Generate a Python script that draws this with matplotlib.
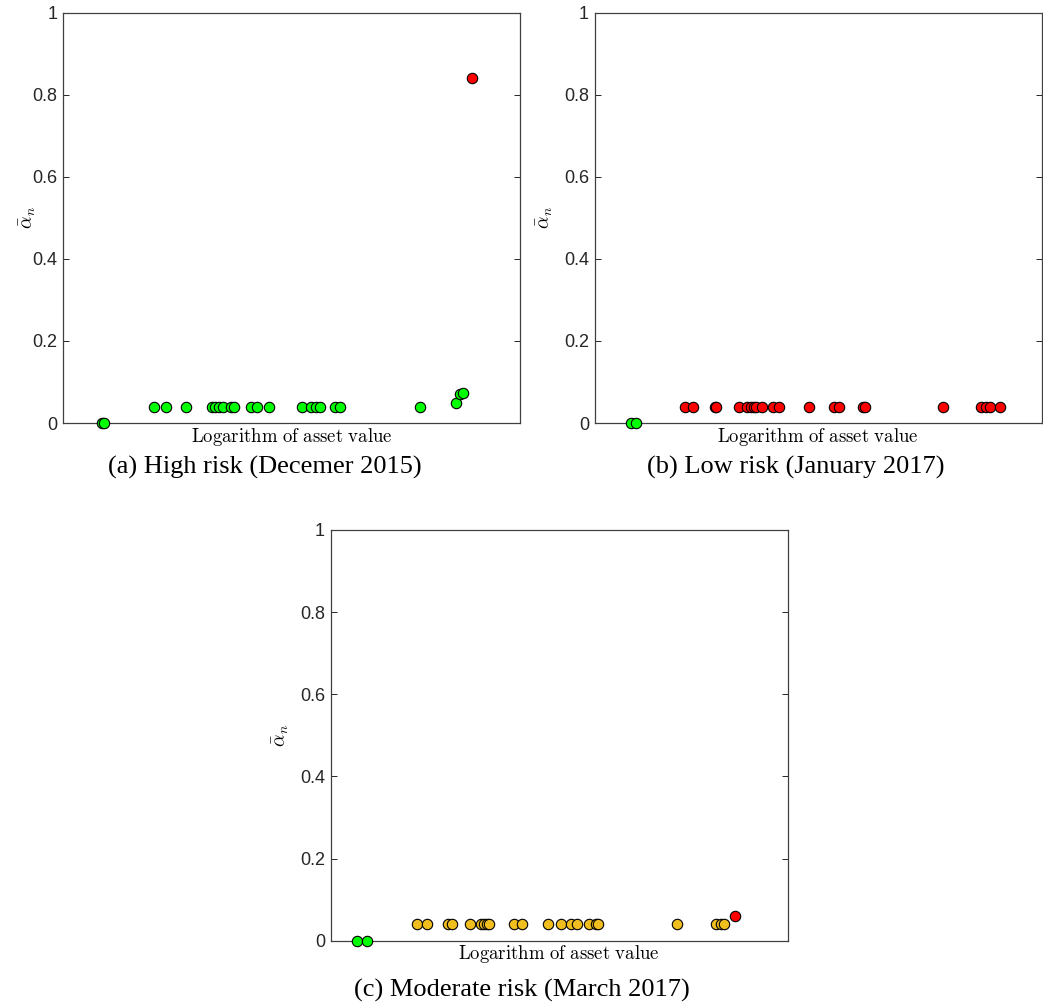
import matplotlib
matplotlib.use("Agg")
import matplotlib.pyplot as plt

plt.rcParams['mathtext.fontset'] = 'cm'
plt.rcParams['font.family'] = ['Liberation Sans', 'DejaVu Sans']

# ---------------- data ----------------
# (a) High risk (December 2015)
a_green_x = [20.85, 20.90, 21.99, 22.26, 22.69, 23.25, 23.33, 23.42, 23.51, 23.68, 23.74,
             24.12, 24.25, 24.51, 25.23, 25.42, 25.53, 25.62, 25.95, 26.06, 27.81,
             28.59, 28.69, 28.75]
a_green_y = [0.0, 0.0, 0.04, 0.04, 0.04, 0.04, 0.04, 0.04, 0.04, 0.04, 0.04,
             0.04, 0.04, 0.04, 0.04, 0.04, 0.04, 0.04, 0.04, 0.04, 0.04,
             0.048, 0.071, 0.074]
a_red_x = [28.94]
a_red_y = [0.84]

# (b) Low risk (January 2017)
b_green_x = [20.81, 20.93]
b_green_y = [0.0, 0.0]
b_red_x = [22.02, 22.19, 22.69, 22.72, 23.22, 23.41, 23.50, 23.56, 23.62, 23.74, 23.98,
           24.12, 24.79, 25.35, 25.47, 25.99, 26.04, 27.79, 28.64, 28.74, 28.84, 29.06]
b_red_y = [0.04] * len(b_red_x)

# (c) Moderate risk (March 2017)
c_green_x = [20.57, 20.79]
c_green_y = [0.0, 0.0]
c_yellow_x = [21.88, 22.12, 22.57, 22.65, 23.06, 23.30, 23.36, 23.41, 23.46, 24.00, 24.19,
              24.76, 25.04, 25.25, 25.38, 25.64, 25.80, 25.85, 27.57, 28.42, 28.53, 28.61]
c_yellow_y = [0.04] * len(c_yellow_x)
c_red_x = [28.84]
c_red_y = [0.06]

yticks = [0, 0.2, 0.4, 0.6, 0.8, 1]
ytick_labels = ['0', '0.2', '0.4', '0.6', '0.8', '1']
captions = ['(a) High risk (Decemer 2015)', '(b) Low risk (January 2017)',
            '(c) Moderate risk (March 2017)']

GREEN = '#00FF00'
RED = '#FF0000'
YELLOW = '#F0BE1E'

W, H = 1043, 1006
fig = plt.figure(figsize=(W / 100, H / 100), dpi=100)


def make_axes(left, bottom, right, top):
    ax = fig.add_axes([left / W, 1 - bottom / H, (right - left) / W, (bottom - top) / H])
    ax.set_xlim(20, 30)
    ax.set_ylim(0, 1)
    ax.set_xticks([])
    ax.set_yticks(yticks)
    ax.set_yticklabels(ytick_labels)
    ax.tick_params(axis='y', direction='in', right=True, length=4, width=0.7,
                   color='#262626', labelsize=13, labelcolor='#262626', pad=4)
    for s in ax.spines.values():
        s.set_color('#404040')
        s.set_linewidth(0.9)
    ax.set_ylabel(r'$\bar{\alpha}_n$', fontsize=14, labelpad=6)
    ax.set_xlabel(r'$\mathrm{Logarithm\ of\ asset\ value}$', fontsize=13.5, labelpad=2)
    return ax


def scat(ax, x, y, c):
    ax.scatter(x, y, s=56, c=c, edgecolors='black', linewidths=0.8, zorder=3, clip_on=False)


ax_a = make_axes(63, 423, 520, 12.7)
ax_a.yaxis.set_label_coords((38 - 63) / 457, 0.5)
scat(ax_a, a_green_x, a_green_y, GREEN)
scat(ax_a, a_red_x, a_red_y, RED)

ax_b = make_axes(594.5, 423, 1042, 12.7)
scat(ax_b, b_green_x, b_green_y, GREEN)
scat(ax_b, b_red_x, b_red_y, RED)

ax_c = make_axes(330.5, 940.7, 788, 530)
scat(ax_c, c_green_x, c_green_y, GREEN)
scat(ax_c, c_yellow_x, c_yellow_y, YELLOW)
scat(ax_c, c_red_x, c_red_y, RED)

cap_kw = dict(ha='center', va='center', fontsize=19, family=['Liberation Serif', 'DejaVu Serif'])
fig.text(265 / W, 1 - 467 / H, captions[0], **cap_kw)
fig.text(796 / W, 1 - 467 / H, captions[1], **cap_kw)
fig.text(522 / W, 1 - 990 / H, captions[2], **cap_kw)

fig.savefig('out.png', dpi=100, facecolor='white')
